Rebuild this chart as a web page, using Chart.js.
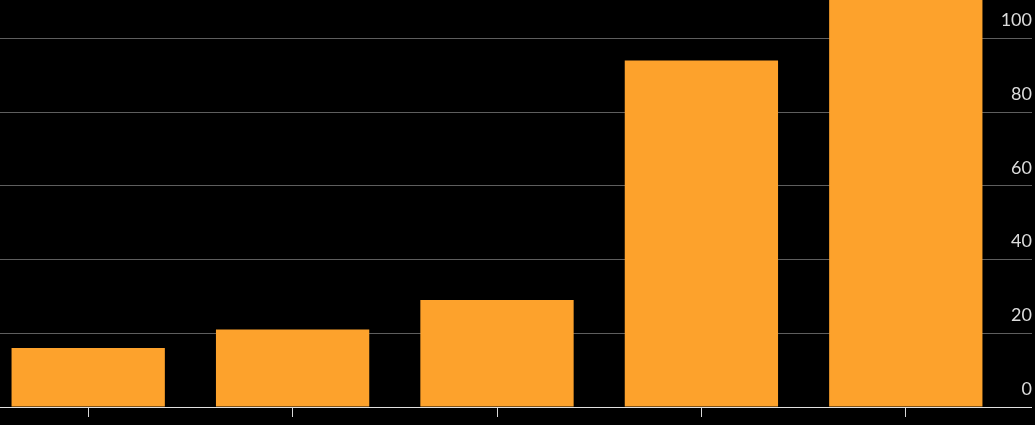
<!DOCTYPE html>
<html>
<head>
<meta charset="utf-8">
<script src="https://cdn.jsdelivr.net/npm/chart.js@4"></script>
<style>
  html, body { margin: 0; padding: 0; background: #000; overflow: hidden; }
  #wrap { position: absolute; left: -14px; top: 0; width: 1049px; height: 425px; }
</style>
</head>
<body>
<div id="wrap"><canvas id="barChart"></canvas></div>
<script>
// Category labels are not shown in the picture
const categories = ['1', '2', '3', '4', '5'];
const values = [16, 21, 29, 94, 116];
const yTicks = [0, 20, 40, 60, 80, 100];

Chart.defaults.font.family = 'Lato';

const ctx = document.getElementById('barChart').getContext('2d');

new Chart(ctx, {
    type: 'bar',
    data: {
        labels: categories,
        datasets: [{
            data: values,
            backgroundColor: '#fda22c',
            borderWidth: 0,
            categoryPercentage: 1,
            barPercentage: 0.75
        }]
    },
    options: {
        responsive: true,
        maintainAspectRatio: false,
        animation: false,
        layout: { padding: { top: 0, right: 3, bottom: 8, left: 0 } },
        plugins: {
            legend: { display: false },
            tooltip: { enabled: false }
        },
        scales: {
            x: {
                border: { display: false },
                grid: {
                    offset: false,
                    drawOnChartArea: false,
                    drawTicks: true,
                    tickLength: 10,
                    color: '#d8d8d8',
                    lineWidth: 1
                },
                ticks: { display: false }
            },
            y: {
                position: 'right',
                min: 0,
                max: 110.4,
                border: { display: false },
                afterBuildTicks: (scale) => {
                    scale.ticks = yTicks.map(v => ({ value: v }));
                },
                afterFit: (scale) => {
                    // labels sit above the lines, so the axis only needs the tick length
                    scale.width = 24;
                    scale.paddingTop = 0;
                    scale.paddingBottom = 0;
                },
                grid: {
                    drawTicks: true,
                    tickLength: 24,
                    color: (c) => c.tick && c.tick.value === 0 ? '#e0e0e0' : '#5e5e5e',
                    lineWidth: 1
                },
                ticks: {
                    mirror: true,
                    padding: 24,
                    labelOffset: -18,
                    color: '#dcdcdc',
                    font: { size: 18 }
                }
            }
        }
    }
});
</script>
</body>
</html>
